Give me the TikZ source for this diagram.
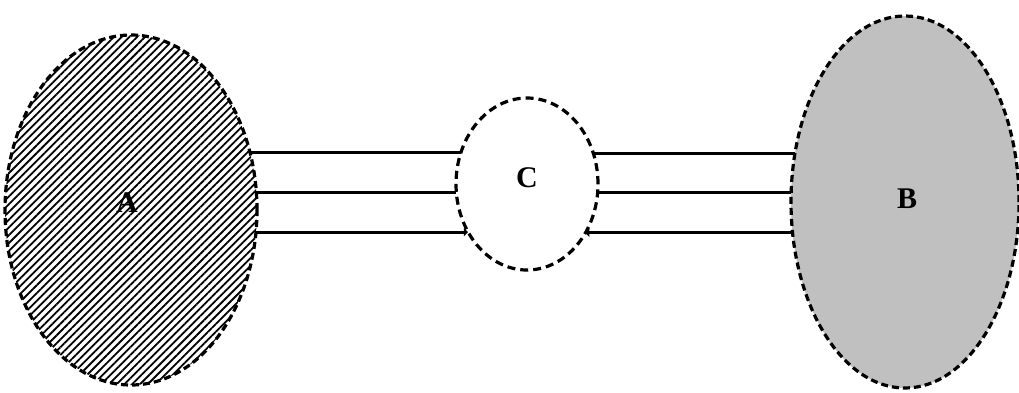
\documentclass[tikz,border=0pt]{standalone}
\usepackage{fontspec}
\setmainfont{Liberation Serif}
\usetikzlibrary{shapes.geometric,patterns.meta,arrows.meta}
\definecolor{bgray}{RGB}{192,192,192}
\begin{document}
\begin{tikzpicture}[x=1pt,y=-1pt,
  blob/.style={ellipse,draw=black,line width=3.2pt,dash pattern=on 7pt off 4pt,inner sep=0pt,outer sep=0pt},
  lab/.style={inner sep=0pt,font=\fontsize{30}{32}\selectfont\bfseries},
  wire/.style={line width=3pt},
  tipT/.tip={Triangle[length=4pt,width=8pt]}]
\useasboundingbox (0,0) rectangle (1019,392);
\node[blob,minimum width=252pt,minimum height=350pt,
      pattern={Lines[angle=45,distance=5.5pt,line width=1.8pt]}] (A) at (131,210) {};
\node[blob,fill=white,minimum width=142pt,minimum height=172pt,dash pattern=on 8pt off 5pt] (C) at (527,184) {};
\node[blob,fill=bgray,minimum width=228pt,minimum height=372pt] (B) at (905,202) {};
\node[lab] (Atext) at (127,203) {A};
\node[lab] (Ctext) at (527,178) {C};
\node[lab] (Btext) at (907,199) {B};
\draw[wire] (A.26.0) -- (A.26.0 -| C.154.1);
\draw[wire] (A.8.2) -- (A.8.2 -| C.186.5);
\draw[wire,-tipT] (A.350) -- (A.350 -| C.219.2);
\draw[wire] (C.25.9) -- (C.25.9 -| B.155.5);
\draw[wire] (C.353.5) -- (C.353.5 -| B.175.0);
\draw[wire,tipT-] (C.320.8) -- (C.320.8 -| B.194.9);
\end{tikzpicture}
\end{document}
